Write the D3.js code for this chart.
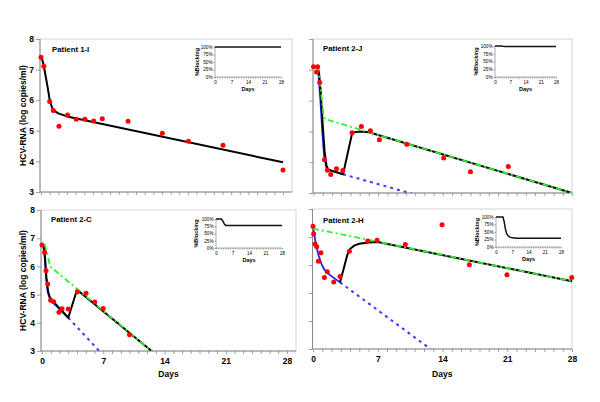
<!DOCTYPE html>
<html><head><meta charset="utf-8">
<script src="https://cdn.jsdelivr.net/npm/d3@7"></script>
<style>body{margin:0;background:#fff}svg{display:block;font-family:"Liberation Sans",Arial,sans-serif}</style>
</head><body><svg id="c" width="600" height="402"></svg>
<script>
// ---------- DATA ----------
const yTickValues = [3,4,5,6,7,8];
const xTickLabels = [0,7,14,21,28];
const blockTicks = [0,25,50,75,100];

// Patient 1-I
const obs1I = [[0,7.40],[0.33,7.11],[1.0,5.96],[1.42,5.66],[2.08,5.15],[3.08,5.52],[4.08,5.38],[5.09,5.38],[6.1,5.32],[7.09,5.39],[10.07,5.31],[14.04,4.92],[17.05,4.66],[21.06,4.53],[28,3.72]];
const fit1I = [[0,7.45],[0.25,7.22],[0.5,6.85],[0.75,6.45],[1.0,6.02],[1.25,5.78],[1.5,5.66],[2.0,5.57],[3.0,5.47],[28,3.97]];
const block1I = [[0,100],[28,100]];

// Patient 2-J
const obs2J = [[0,7.10],[0.33,6.93],[0.45,7.10],[0.67,6.59],[1.19,4.08],[1.51,3.74],[1.87,3.60],[2.49,3.79],[3.17,3.73],[4.18,4.96],[5.19,5.16],[6.16,5.02],[7.14,4.73],[10.1,4.58],[14.1,4.14],[17.0,3.69],[21.1,3.86]];
const fit2J = [[0.45,7.10],[0.6,6.9],[0.8,6.2],[1.0,5.2],[1.2,4.35],[1.4,3.9],[1.6,3.76],[3.2,3.61],[4.2,4.96],[5.0,5.0],[6.0,4.97],[28,3.0]];
const blue2J = [[0.45,7.10],[0.55,6.8],[0.75,6.0],[0.95,5.0],[1.15,4.2],[1.4,3.82],[1.6,3.75],[3.2,3.61]];
const blueDash2J = [[3.2,3.61],[11,2.95]];
const green2J = [[0.45,7.10],[0.6,6.8],[0.76,6.44],[0.95,5.9],[1.1,5.5],[1.25,5.4],[28,3.0]];
const block2J = [[0,100],[3,100],[4.5,98],[28,98]];

// Patient 2-C
const obs2C = [[0,6.76],[0.3,6.50],[0.46,5.85],[0.65,5.38],[0.99,4.80],[1.33,4.75],[1.94,4.37],[2.29,4.50],[3.0,4.49],[4.04,5.09],[5.03,5.05],[6.02,4.74],[7.0,4.51],[10.0,3.58]];
const fit2C = [[0,6.76],[0.2,6.72],[0.35,6.3],[0.5,5.6],[0.7,5.1],[0.9,4.9],[1.3,4.75],[3.0,4.18],[4.0,5.17],[12.6,2.98]];
const blue2C = [[0.12,6.76],[0.3,6.4],[0.45,5.7],[0.65,5.1],[0.9,4.85],[1.3,4.7],[3.0,4.18]];
const blueDash2C = [[3.0,4.18],[6.7,2.95]];
const green2C = [[0.3,6.78],[0.55,6.55],[0.75,6.25],[0.92,6.0],[12.6,2.98]];
const block2C = [[0,100],[2.3,100],[3.0,92],[3.6,82],[4.2,78],[28,78]];

// Patient 2-H
const obs2H = [[0,7.38],[0.07,7.11],[0.22,6.75],[0.4,6.65],[0.58,6.13],[0.86,6.44],[1.23,5.55],[1.55,5.76],[2.24,5.39],[2.92,5.59],[3.93,6.49],[5.91,6.86],[6.92,6.88],[9.98,6.73],[13.95,7.44],[16.9,6.01],[20.97,5.65],[27.97,5.55]];
const fit2H = [[2.92,5.38],[3.3,5.85],[3.7,6.35],[4.0,6.57],[4.5,6.7],[5.0,6.76],[6.0,6.8],[7.0,6.82],[28,5.42]];
const blue2H = [[0,7.38],[0.15,7.05],[0.35,6.7],[0.6,6.35],[0.9,6.05],[1.2,5.85],[1.6,5.7],[2.92,5.38]];
const blueDash2H = [[2.92,5.38],[12.7,3.0]];
const green2H = [[0,7.3],[28,5.42]];
const block2H = [[0,100],[3,100],[3.5,85],[4,62],[4.5,47],[5,39],[6,33],[7,30.5],[9,29],[28,29]];

// ---------- LAYOUT ----------
const panels = [
  {name:"Patient 1-I", obs:obs1I, fit:fit1I, blue:null, blueDash:null, green:null, block:block1I,
   x0:41, x1:283, L:40, R:292, top:39, bot:192, yLab:true, xLab:false,
   nameX:52, nameY:52,
   inset:{x0:215,x1:281,top:47,bot:77,labX:197,daysDy:14}},
  {name:"Patient 2-J", obs:obs2J, fit:fit2J, blue:blue2J, blueDash:blueDash2J, green:green2J, block:block2J,
   x0:313.5, x1:572, L:313, R:572, top:39, bot:193, yLab:false, xLab:false,
   nameX:323, nameY:51,
   inset:{x0:495,x1:556,top:46,bot:77,labX:476,daysDy:13.5}},
  {name:"Patient 2-C", obs:obs2C, fit:fit2C, blue:blue2C, blueDash:blueDash2C, green:green2C, block:block2C,
   x0:42, x1:287, L:41, R:296, top:210, bot:351, yLab:true, xLab:true,
   nameX:51, nameY:222,
   inset:{x0:216,x1:282,top:219,bot:248,labX:196,daysDy:14}},
  {name:"Patient 2-H", obs:obs2H, fit:fit2H, blue:blue2H, blueDash:blueDash2H, green:green2H, block:block2H,
   x0:313, x1:572, L:312.5, R:572, top:209, bot:349, yLab:false, xLab:true,
   nameX:323, nameY:223,
   inset:{x0:496,x1:561,top:217,bot:247,labX:477,daysDy:14}}
];

const svg = d3.select("#c");
const defs = svg.append("defs");
const AX = "#8a8a8a";

function styleAxis(sel, size, weight){
  sel.selectAll(".domain").remove();
  sel.selectAll(".tick line").attr("stroke", AX).attr("stroke-width", 0.8);
  sel.selectAll("text").attr("fill","#000").style("font-size", size+"px").style("font-weight", weight)
     .style("font-family",'"Liberation Sans",Arial,sans-serif');
}

panels.forEach((p,i) => {
  const x = d3.scaleLinear().domain([0,28]).range([p.x0,p.x1]);
  const y = d3.scaleLinear().domain([3,8]).range([p.bot,p.top]);
  const g = svg.append("g");

  g.append("rect").attr("x",p.L).attr("y",p.top).attr("width",p.R-p.L).attr("height",p.bot-p.top)
    .attr("fill","none").attr("stroke","#d4d4d4").attr("stroke-width",1);

  const ya = d3.axisLeft(y).tickValues(yTickValues).tickSize(4).tickPadding(2)
    .tickFormat(p.yLab ? d3.format("d") : () => "");
  const yg = g.append("g").attr("transform",`translate(${p.L},0)`).call(ya);
  styleAxis(yg, 8.5, "bold");

  const xa = d3.axisBottom(x).tickValues(d3.range(0,29)).tickSize(3).tickPadding(4)
    .tickFormat(d => (p.xLab && xTickLabels.includes(d)) ? d : "");
  const xg = g.append("g").attr("transform",`translate(0,${p.bot})`).call(xa);
  styleAxis(xg, 8.5, "bold");

  g.append("line").attr("x1",p.L).attr("x2",p.L).attr("y1",p.top).attr("y2",p.bot).attr("stroke",AX).attr("stroke-width",1);
  g.append("line").attr("x1",p.L).attr("x2",p.R).attr("y1",p.bot).attr("y2",p.bot).attr("stroke",AX).attr("stroke-width",1);

  defs.append("clipPath").attr("id","clip"+i).append("rect")
    .attr("x",p.L).attr("y",p.top).attr("width",p.R-p.L+1).attr("height",p.bot-p.top);
  const lg = g.append("g").attr("clip-path",`url(#clip${i})`);
  const line = d3.line().x(d => x(d[0])).y(d => y(d[1]));

  if (p.blueDash) lg.append("path").attr("d",line(p.blueDash)).attr("fill","none")
    .attr("stroke","#3b3bff").attr("stroke-width",2).attr("stroke-dasharray","3,4");
  if (p.blue) lg.append("path").attr("d",line(p.blue)).attr("fill","none")
    .attr("stroke","#2222ff").attr("stroke-width",1.8);
  lg.append("path").attr("d",line(p.fit)).attr("fill","none")
    .attr("stroke","#000").attr("stroke-width",2).attr("stroke-linejoin","round");
  if (p.green) lg.append("path").attr("d",line(p.green)).attr("fill","none")
    .attr("stroke","#33ee33").attr("stroke-width",1.8).attr("stroke-dasharray","6,3,2,3");

  g.append("g").selectAll("circle").data(p.obs).join("circle")
    .attr("cx",d => x(d[0])).attr("cy",d => y(d[1])).attr("r",2.5).attr("fill","#ff0000");

  g.append("text").attr("x",p.nameX).attr("y",p.nameY).text(p.name)
    .style("font-size","7.8px").style("font-weight","bold");

  if (p.xLab) g.append("text").attr("x",(p.L+p.R)/2).attr("y",377).attr("text-anchor","middle")
    .text("Days").style("font-size","8.5px").style("font-weight","bold");
  if (p.yLab) g.append("text").attr("transform",`translate(26,${(p.top+p.bot)/2}) rotate(-90)`)
    .attr("text-anchor","middle").text("HCV-RNA (log copies/ml)")
    .style("font-size","8.5px").style("font-weight","bold");

  // inset
  const s = p.inset;
  const ix = d3.scaleLinear().domain([0,28]).range([s.x0,s.x1]);
  const iy = d3.scaleLinear().domain([0,100]).range([s.bot,s.top]);
  const ig = g.append("g");
  const iya = d3.axisLeft(iy).tickValues(blockTicks).tickSize(1.5).tickPadding(1).tickFormat(d => d+"%");
  const iyg = ig.append("g").attr("transform",`translate(${s.x0},0)`).call(iya);
  styleAxis(iyg, 4.6, "normal");
  const ixa = d3.axisBottom(ix).tickValues(d3.range(0,29)).tickSize(1.5).tickPadding(2)
    .tickFormat(d => xTickLabels.includes(d) ? d : "");
  const ixg = ig.append("g").attr("transform",`translate(0,${s.bot})`).call(ixa);
  styleAxis(ixg, 4.6, "normal");
  ig.append("line").attr("x1",s.x0).attr("x2",s.x0).attr("y1",s.top).attr("y2",s.bot).attr("stroke",AX).attr("stroke-width",0.7);
  ig.append("line").attr("x1",s.x0).attr("x2",s.x1).attr("y1",s.bot).attr("y2",s.bot).attr("stroke",AX).attr("stroke-width",0.7);
  const bline = d3.line().x(d => ix(d[0])).y(d => iy(d[1]));
  ig.append("path").attr("d", bline(p.block))
    .attr("fill","none").attr("stroke","#111").attr("stroke-width",1.5);
  ig.append("text").attr("x",(s.x0+s.x1)/2).attr("y",s.bot+s.daysDy).attr("text-anchor","middle")
    .text("Days").style("font-size","5.5px").style("font-weight","bold");
  ig.append("text").attr("transform",`translate(${s.labX+2},${(s.top+s.bot)/2}) rotate(-90)`)
    .attr("text-anchor","middle").text("%Blocking").style("font-size","5.5px").style("font-weight","bold");
});
</script></body></html>
